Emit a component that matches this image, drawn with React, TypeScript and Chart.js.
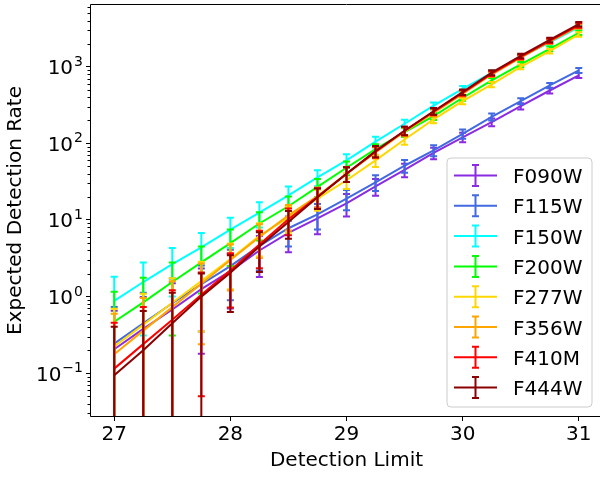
import React, { useEffect, useRef } from 'react';
import { Chart, registerables } from 'chart.js';

Chart.register(...registerables);

const FONT = "'DejaVu Sans', 'Liberation Sans', sans-serif";

const detectionLimit = [27, 27.25, 27.5, 27.75, 28, 28.25, 28.5, 28.75, 29, 29.25, 29.5, 29.75, 30, 30.25, 30.5, 30.75, 31];

const filterNames = ['F090W', 'F115W', 'F150W', 'F200W', 'F277W', 'F356W', 'F410M', 'F444W'];
const filterColors = ['#8A2BE2', '#4169E1', '#00FFFF', '#00FF00', '#FFD700', '#FFA500', '#FF0000', '#8B0000'];

const rateF090W = [0.206, 0.38, 0.68, 1.25, 2.15, 4.0, 6.8, 10.5, 16.5, 27.5, 45, 75, 120, 189, 305, 489, 768];
const errF090W = [0.45, 0.61, 0.82, 1.07, 1.45, 2.2, 3.0, 4.0, 5.4, 6.8, 9, 12.8, 17, 22, 29, 41, 57];

const rateF115W = [0.244, 0.45, 0.82, 1.45, 2.5, 4.6, 7.8, 11.8, 19, 31, 51, 81, 133, 222, 355, 569, 893];
const errF115W = [0.49, 0.67, 0.9, 1.1, 1.6, 2.4, 3.3, 4.3, 5.6, 7.2, 9.7, 13.2, 18, 23.5, 31.5, 45, 65];

const rateF150W = [0.88, 1.55, 2.65, 4.4, 7.5, 12.5, 21, 36, 60, 105, 180, 310, 515, 830, 1320, 2080, 3250];
const errF150W = [0.94, 1.24, 1.65, 2.35, 3.2, 4.5, 6.4, 8.5, 12, 16.5, 23, 31, 45, 65, 97, 152, 235];

const rateF200W = [0.47, 0.84, 1.55, 2.8, 5.0, 9.0, 15.1, 27, 48, 84, 140, 226, 393, 661, 1070, 1710, 2770];
const errF200W = [0.69, 0.92, 1.24, 1.7, 2.5, 3.6, 5.2, 7.2, 9.8, 13.6, 18.7, 24, 34, 50, 77, 119, 189];

const rateF277W = [0.223, 0.43, 0.83, 1.6, 3.1, 6.2, 10.8, 19, 33, 60, 112, 205, 355, 586, 997, 1592, 2630];
const errF277W = [0.47, 0.66, 0.91, 1.25, 1.85, 2.85, 4, 5.8, 7.6, 11, 16, 22, 31.5, 46, 72, 110, 180];

const rateF356W = [0.177, 0.36, 0.73, 1.47, 3.0, 6.0, 11.5, 20.5, 40, 76, 142, 250, 440, 790, 1310, 2120, 3350];
const errF356W = [0.42, 0.6, 0.86, 1.23, 1.8, 2.8, 4.2, 6.1, 8.6, 12.8, 18.7, 25.5, 37.5, 59, 90, 146, 228];

const rateF410M = [0.115, 0.24, 0.5, 1.06, 2.2, 4.8, 10.2, 20, 40, 78, 146, 258, 455, 810, 1340, 2170, 3450];
const errF410M = [0.34, 0.49, 0.71, 1.01, 1.48, 2.45, 3.9, 6.0, 8.6, 13, 18.7, 26, 38, 60, 92, 150, 235];

const rateF444W = [0.094, 0.2, 0.45, 1.0, 2.05, 4.5, 9.4, 19.8, 40, 79, 146, 262, 465, 835, 1380, 2230, 3580];
const errF444W = [0.31, 0.45, 0.67, 1.0, 1.42, 2.4, 3.7, 5.9, 8.6, 13.1, 18.7, 26.3, 39, 62, 94, 153, 245];

const xTickValues = [27, 28, 29, 30, 31];
const yTickValues = [0.1, 1, 10, 100, 1000];
const yTickExponents = ['\u22121', '0', '1', '2', '3'];

const X_MIN = 26.8;
const X_MAX = 31.2;
const Y_MIN = 0.0277;
const Y_MAX = 6380;

const allRates = [rateF090W, rateF115W, rateF150W, rateF200W, rateF277W, rateF356W, rateF410M, rateF444W];
const allErrs = [errF090W, errF115W, errF150W, errF200W, errF277W, errF356W, errF410M, errF444W];

const errorBarPlugin = {
  id: 'errorBars',
  afterDatasetDraw(chart: any, args: any) {
    const ds = chart.data.datasets[args.index];
    const err: number[] = ds.errors;
    const ctx = chart.ctx;
    const xs = chart.scales.x;
    const ys = chart.scales.y;
    const a = chart.chartArea;
    ctx.save();
    ctx.beginPath();
    ctx.rect(a.left, a.top, a.right - a.left, a.bottom - a.top);
    ctx.clip();
    ctx.strokeStyle = ds.borderColor;
    ctx.lineWidth = 2;
    ds.data.forEach((p: any, i: number) => {
      const px = xs.getPixelForValue(p.x);
      const hi = ys.getPixelForValue(p.y + err[i]);
      const loV = p.y - err[i];
      const lo = loV > 0 ? ys.getPixelForValue(loV) : a.bottom + 10;
      ctx.beginPath();
      ctx.moveTo(px, hi);
      ctx.lineTo(px, lo);
      ctx.moveTo(px - 3.5, hi);
      ctx.lineTo(px + 3.5, hi);
      if (loV > 0) {
        ctx.moveTo(px - 3.5, lo);
        ctx.lineTo(px + 3.5, lo);
      }
      ctx.stroke();
    });
    ctx.restore();
  },
};

const axesPlugin = {
  id: 'axesDecor',
  afterDatasetsDraw(chart: any) {
    const ctx = chart.ctx;
    const a = chart.chartArea;
    const ys = chart.scales.y;
    ctx.save();
    ctx.strokeStyle = '#000';
    ctx.lineWidth = 1;
    for (let d = -2; d <= 3; d++) {
      for (let m = 2; m <= 9; m++) {
        const v = m * Math.pow(10, d);
        if (v < Y_MIN || v > Y_MAX) continue;
        const py = Math.round(ys.getPixelForValue(v)) + 0.5;
        ctx.beginPath();
        ctx.moveTo(a.left - 3.5, py);
        ctx.lineTo(a.left, py);
        ctx.stroke();
      }
    }
    ctx.lineWidth = 1;
    ctx.beginPath();
    ctx.moveTo(a.left - 0.5, a.top - 0.5);
    ctx.lineTo(a.right + 0.5, a.top - 0.5);
    ctx.lineTo(a.right + 0.5, a.bottom + 0.5);
    ctx.lineTo(a.left - 0.5, a.bottom + 0.5);
    ctx.closePath();
    ctx.stroke();
    ctx.fillStyle = '#000';
    ctx.textBaseline = 'alphabetic';
    ctx.textAlign = 'left';
    yTickValues.forEach((v, i) => {
      const py = ys.getPixelForValue(v);
      ctx.font = `20px ${FONT}`;
      const wBase = ctx.measureText('10').width;
      ctx.font = `14px ${FONT}`;
      const wExp = ctx.measureText(yTickExponents[i]).width;
      const right = a.left - 8;
      const x0 = right - wBase - wExp - 1;
      ctx.font = `20px ${FONT}`;
      ctx.fillText('10', x0, py + 7.5);
      ctx.font = `14px ${FONT}`;
      ctx.fillText(yTickExponents[i], x0 + wBase + 1, py - 1);
    });
    ctx.restore();
  },
  afterDraw(chart: any) {
    const ctx = chart.ctx;
    const a = chart.chartArea;
    const datasets = chart.data.datasets;
    const boxW = 145;
    const boxH = 249;
    const x0 = a.right - 155;
    const y0 = 158;
    const r = 4;
    ctx.save();
    ctx.beginPath();
    ctx.moveTo(x0 + r, y0);
    ctx.lineTo(x0 + boxW - r, y0);
    ctx.arcTo(x0 + boxW, y0, x0 + boxW, y0 + r, r);
    ctx.lineTo(x0 + boxW, y0 + boxH - r);
    ctx.arcTo(x0 + boxW, y0 + boxH, x0 + boxW - r, y0 + boxH, r);
    ctx.lineTo(x0 + r, y0 + boxH);
    ctx.arcTo(x0, y0 + boxH, x0, y0 + boxH - r, r);
    ctx.lineTo(x0, y0 + r);
    ctx.arcTo(x0, y0, x0 + r, y0, r);
    ctx.closePath();
    ctx.fillStyle = 'rgba(255,255,255,0.8)';
    ctx.fill();
    ctx.strokeStyle = '#cccccc';
    ctx.lineWidth = 1;
    ctx.stroke();
    datasets.forEach((ds: any, i: number) => {
      const cy = y0 + 17.5 + i * 30.3;
      ctx.strokeStyle = ds.borderColor;
      ctx.lineWidth = 2;
      const hx0 = x0 + 7;
      const hx1 = x0 + 50;
      const hx = (hx0 + hx1) / 2;
      ctx.beginPath();
      ctx.moveTo(hx0, cy);
      ctx.lineTo(hx1, cy);
      ctx.moveTo(hx, cy - 10.5);
      ctx.lineTo(hx, cy + 10.5);
      ctx.moveTo(hx - 3.5, cy - 10.5);
      ctx.lineTo(hx + 3.5, cy - 10.5);
      ctx.moveTo(hx - 3.5, cy + 10.5);
      ctx.lineTo(hx + 3.5, cy + 10.5);
      ctx.stroke();
      ctx.fillStyle = '#000';
      ctx.font = `20px ${FONT}`;
      ctx.textAlign = 'left';
      ctx.textBaseline = 'alphabetic';
      ctx.fillText(ds.label, x0 + 66, cy + 7.5);
    });
    ctx.restore();
  },
};

export default function App() {
  const canvasRef = useRef<HTMLCanvasElement | null>(null);

  useEffect(() => {
    const canvas = canvasRef.current;
    if (!canvas) return;
    const datasets = filterNames.map((name, k) => ({
      label: name,
      data: detectionLimit.map((x, i) => ({ x, y: allRates[k][i] })),
      errors: allErrs[k],
      borderColor: filterColors[k],
      backgroundColor: filterColors[k],
      borderWidth: 2,
      pointRadius: 0,
      pointHoverRadius: 0,
      tension: 0,
      fill: false,
      order: filterNames.length - 1 - k,
    }));

    const chart = new Chart(canvas, {
      type: 'line',
      data: { datasets } as any,
      options: {
        animation: false,
        responsive: false,
        devicePixelRatio: 1,
        layout: { padding: { left: 0, right: 2, top: 5, bottom: 0 } },
        plugins: {
          legend: { display: false },
          tooltip: { enabled: false },
        },
        events: [],
        scales: {
          x: {
            type: 'linear',
            min: X_MIN,
            max: X_MAX,
            afterBuildTicks: (scale: any) => {
              scale.ticks = xTickValues.map((v) => ({ value: v }));
            },
            afterFit: (scale: any) => {
              scale.height = 61;
            },
            grid: {
              drawOnChartArea: false,
              drawTicks: true,
              tickLength: 5,
              tickColor: '#000',
              tickWidth: 1,
            },
            border: { display: false },
            ticks: {
              autoSkip: false,
              maxRotation: 0,
              padding: 2,
              color: '#000',
              font: { family: FONT, size: 20 },
              callback: (v: any) => String(v),
            },
            title: {
              display: true,
              text: 'Detection Limit',
              color: '#000',
              font: { family: FONT, size: 20 },
              padding: { top: 4, bottom: 4 },
            },
          },
          y: {
            type: 'logarithmic',
            min: Y_MIN,
            max: Y_MAX,
            afterBuildTicks: (scale: any) => {
              scale.ticks = yTickValues.map((v) => ({ value: v, major: true }));
            },
            afterFit: (scale: any) => {
              scale.width = 91;
            },
            grid: {
              drawOnChartArea: false,
              drawTicks: true,
              tickLength: 5,
              tickColor: '#000',
              tickWidth: 1,
            },
            border: { display: false },
            ticks: {
              display: false,
            },
            title: {
              display: true,
              text: 'Expected Detection Rate',
              color: '#000',
              font: { family: FONT, size: 20 },
              padding: { top: 4, bottom: 4 },
            },
          },
        },
      } as any,
      plugins: [errorBarPlugin, axesPlugin],
    });

    return () => {
      chart.destroy();
    };
  }, []);

  return (
    <div style={{ position: 'fixed', left: 0, top: 0, width: 600, height: 477, overflow: 'hidden', background: '#fff' }}>
      <canvas ref={canvasRef} width={604} height={477} style={{ display: 'block', width: 604, height: 477 }} />
    </div>
  );
}
